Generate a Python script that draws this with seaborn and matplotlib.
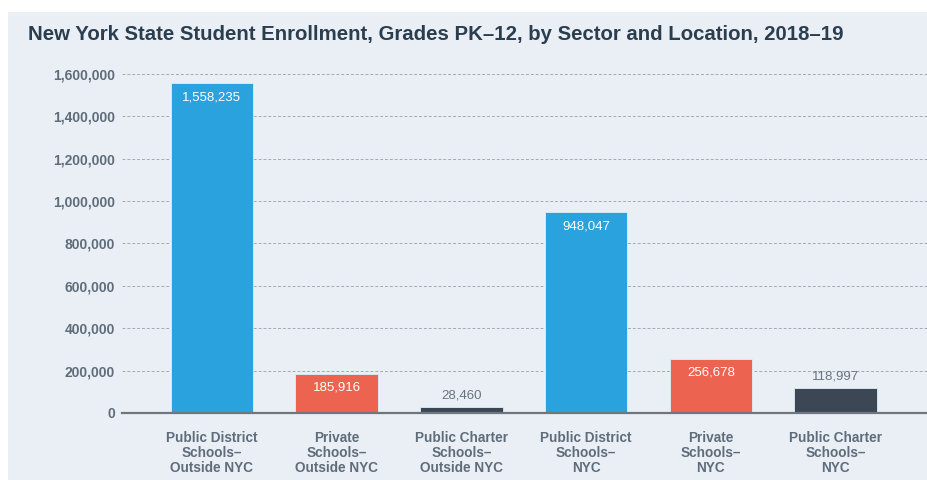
import matplotlib
matplotlib.use("Agg")
import matplotlib.pyplot as plt
from matplotlib.patches import Rectangle
from matplotlib.ticker import FuncFormatter
import pandas as pd
import seaborn as sns

# Enrollment by sector and location, 2018-19
categories = [
    "Public District\nSchools–\nOutside NYC",
    "Private\nSchools–\nOutside NYC",
    "Public Charter\nSchools–\nOutside NYC",
    "Public District\nSchools–\nNYC",
    "Private\nSchools–\nNYC",
    "Public Charter\nSchools–\nNYC",
]
sectors = ["district", "private", "charter", "district", "private", "charter"]
enrollment = [1558235, 185916, 28460, 948047, 256678, 118997]
label_inside = [True, True, False, True, True, False]
y_ticks = [0, 200000, 400000, 600000, 800000, 1000000, 1200000, 1400000, 1600000]

sector_colors = {"district": "#29a2de", "private": "#ec6450", "charter": "#3d4654"}
panel_color = "#eaeff6"
text_gray = "#5f6c7a"

df = pd.DataFrame({"category": categories, "sector": sectors, "enrollment": enrollment})

sns.set_theme(style="white")
plt.rcParams["font.family"] = ["Liberation Sans", "DejaVu Sans"]

fig = plt.figure(figsize=(9.28, 4.8), dpi=100)
fig.patch.set_facecolor("white")
fig.patches.append(Rectangle((8 / 928, 0), 1, 1 - 12 / 480, transform=fig.transFigure,
                             facecolor=panel_color, edgecolor="none", zorder=-10))

ax = fig.add_axes([122 / 928, 67 / 480, 806 / 928, 339 / 480])
ax.set_facecolor("none")

sns.barplot(data=df, x="category", y="enrollment", hue="sector", order=categories,
            palette=sector_colors, saturation=1, dodge=False, width=0.66, legend=False,
            edgecolor="#d8f1fb", linewidth=0.6, ax=ax, zorder=3)

ax.set_ylim(0, 1600000)
ax.set_xlim(-0.72, 5.74)
ax.set_yticks(y_ticks)
ax.yaxis.set_major_formatter(FuncFormatter(lambda v, _: f"{int(v):,}"))
ax.grid(axis="y", color="#a2abb5", linestyle=(0, (3, 2)), linewidth=0.7, zorder=0)
ax.grid(axis="x", visible=False)
for side in ["top", "right", "left"]:
    ax.spines[side].set_visible(False)
ax.spines["bottom"].set_color("#6f767d")
ax.spines["bottom"].set_linewidth(1.6)
ax.spines["bottom"].set_zorder(4)

ax.set_xlabel("")
ax.set_ylabel("")
ax.tick_params(axis="y", length=0, pad=5, labelsize=10, labelcolor=text_gray)
ax.tick_params(axis="x", length=0, pad=13, labelsize=9.8, labelcolor=text_gray)
for lbl in ax.get_yticklabels():
    lbl.set_fontweight("bold")
for lbl in ax.get_xticklabels():
    lbl.set_fontweight("bold")
    lbl.set_linespacing(1.1)

for i, (val, inside) in enumerate(zip(enrollment, label_inside)):
    if inside:
        ax.annotate(f"{val:,}", (i, val), xytext=(0, -6), textcoords="offset points",
                    ha="center", va="top", color="white", fontsize=9.5, zorder=5)
    else:
        ax.annotate(f"{val:,}", (i, val), xytext=(0, 4), textcoords="offset points",
                    ha="center", va="bottom", color="#6a737d", fontsize=9.5, zorder=5)

fig.text(28 / 928, 1 - 35 / 480, "New York State Student Enrollment, Grades PK–12, by Sector and Location, 2018–19",
         ha="left", va="center", fontsize=14.7, fontweight="bold", color="#2b3e50")

fig.savefig("out.png", dpi=100, facecolor=fig.get_facecolor())
